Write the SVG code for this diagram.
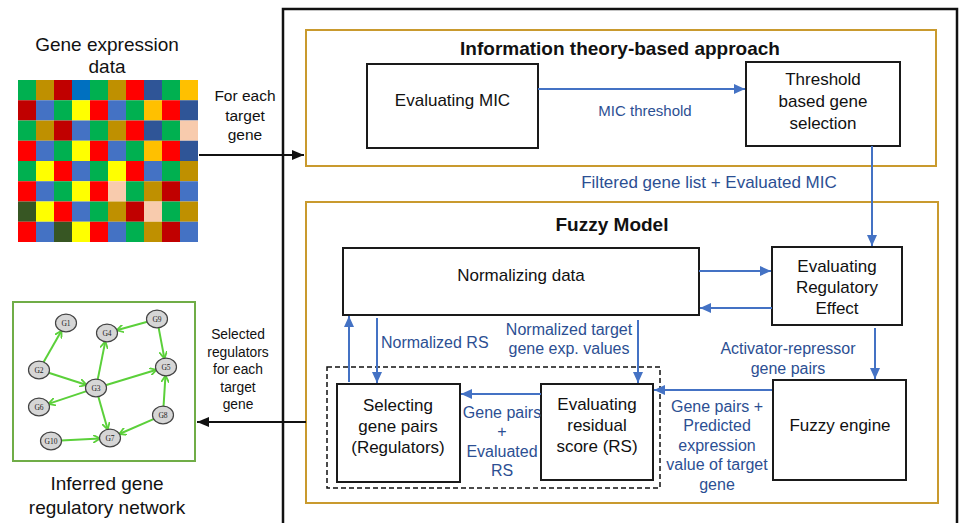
<svg xmlns="http://www.w3.org/2000/svg" width="959" height="523" viewBox="0 0 959 523">
<style>
text{font-family:"Liberation Sans",Arial,sans-serif;fill:#111}
.t19{font-size:19px;text-anchor:middle}
.t17{font-size:17px;text-anchor:middle}
.t15{font-size:15.5px;text-anchor:middle}
.t14{font-size:13.8px;text-anchor:middle}
.ttl{font-size:19px;font-weight:bold;text-anchor:middle}
.lb{font-size:16px;fill:#2c4f93;text-anchor:middle}
.box{fill:#fff;stroke:#1a1a1a;stroke-width:2}
.grp{fill:none;stroke:#c99a2e;stroke-width:2}
.blue{stroke:#4472c4;stroke-width:2;fill:none}
.blk{stroke:#111;stroke-width:2;fill:none}
.ge{stroke:#5bd03a;stroke-width:2;fill:none}
.gn{fill:#d6d6d6;stroke:#444;stroke-width:1.2}
.gt{font-family:"Liberation Serif",serif;font-size:7.5px;text-anchor:middle;fill:#222}
.G{fill:#00b050}.O{fill:#bf9000}.DR{fill:#c00000}.B{fill:#0070c0}.R{fill:#ff0000}.N{fill:#2f5597}.Y{fill:#ffff00}.OR{fill:#ffc000}.B2{fill:#4472c4}.P{fill:#f8cbad}.DG{fill:#375623}
</style>
<defs>
<marker id="ab" markerUnits="userSpaceOnUse" markerWidth="11" markerHeight="10" refX="11" refY="5" orient="auto"><path d="M0,0 L11,5 L0,10 z" fill="#4472c4"/></marker>
<marker id="ak" markerUnits="userSpaceOnUse" markerWidth="12" markerHeight="10" refX="12" refY="5" orient="auto"><path d="M0,0 L12,5 L0,10 z" fill="#111"/></marker>
<marker id="ag" markerUnits="userSpaceOnUse" markerWidth="8" markerHeight="8" refX="7" refY="4" orient="auto"><path d="M0,0 L7,4 L0,8" fill="none" stroke="#5bd03a" stroke-width="1.8"/></marker>
</defs>

<g id="gene-expression-data">
<text class="t19" x="107" y="51">Gene expression</text>
<text class="t19" x="107" y="73">data</text>
<g id="heatmap">
<rect class="G" x="18" y="80" width="18" height="20.25"/><rect class="O" x="36" y="80" width="18" height="20.25"/><rect class="DR" x="54" y="80" width="18" height="20.25"/><rect class="B" x="72" y="80" width="18" height="20.25"/><rect class="G" x="90" y="80" width="18" height="20.25"/><rect class="O" x="108" y="80" width="18" height="20.25"/><rect class="R" x="126" y="80" width="18" height="20.25"/><rect class="N" x="144" y="80" width="18" height="20.25"/><rect class="G" x="162" y="80" width="18" height="20.25"/><rect class="OR" x="180" y="80" width="18" height="20.25"/>
<rect class="DR" x="18" y="100.25" width="18" height="20.25"/><rect class="B2" x="36" y="100.25" width="18" height="20.25"/><rect class="G" x="54" y="100.25" width="18" height="20.25"/><rect class="Y" x="72" y="100.25" width="18" height="20.25"/><rect class="R" x="90" y="100.25" width="18" height="20.25"/><rect class="B2" x="108" y="100.25" width="18" height="20.25"/><rect class="G" x="126" y="100.25" width="18" height="20.25"/><rect class="OR" x="144" y="100.25" width="18" height="20.25"/><rect class="R" x="162" y="100.25" width="18" height="20.25"/><rect class="N" x="180" y="100.25" width="18" height="20.25"/>
<rect class="G" x="18" y="120.5" width="18" height="20.25"/><rect class="O" x="36" y="120.5" width="18" height="20.25"/><rect class="DR" x="54" y="120.5" width="18" height="20.25"/><rect class="B2" x="72" y="120.5" width="18" height="20.25"/><rect class="G" x="90" y="120.5" width="18" height="20.25"/><rect class="O" x="108" y="120.5" width="18" height="20.25"/><rect class="R" x="126" y="120.5" width="18" height="20.25"/><rect class="N" x="144" y="120.5" width="18" height="20.25"/><rect class="G" x="162" y="120.5" width="18" height="20.25"/><rect class="P" x="180" y="120.5" width="18" height="20.25"/>
<rect class="R" x="18" y="140.75" width="18" height="20.25"/><rect class="B2" x="36" y="140.75" width="18" height="20.25"/><rect class="G" x="54" y="140.75" width="18" height="20.25"/><rect class="Y" x="72" y="140.75" width="18" height="20.25"/><rect class="R" x="90" y="140.75" width="18" height="20.25"/><rect class="B2" x="108" y="140.75" width="18" height="20.25"/><rect class="G" x="126" y="140.75" width="18" height="20.25"/><rect class="OR" x="144" y="140.75" width="18" height="20.25"/><rect class="R" x="162" y="140.75" width="18" height="20.25"/><rect class="N" x="180" y="140.75" width="18" height="20.25"/>
<rect class="G" x="18" y="161" width="18" height="20.25"/><rect class="Y" x="36" y="161" width="18" height="20.25"/><rect class="R" x="54" y="161" width="18" height="20.25"/><rect class="B2" x="72" y="161" width="18" height="20.25"/><rect class="G" x="90" y="161" width="18" height="20.25"/><rect class="Y" x="108" y="161" width="18" height="20.25"/><rect class="R" x="126" y="161" width="18" height="20.25"/><rect class="B2" x="144" y="161" width="18" height="20.25"/><rect class="G" x="162" y="161" width="18" height="20.25"/><rect class="O" x="180" y="161" width="18" height="20.25"/>
<rect class="R" x="18" y="181.25" width="18" height="20.25"/><rect class="B2" x="36" y="181.25" width="18" height="20.25"/><rect class="G" x="54" y="181.25" width="18" height="20.25"/><rect class="Y" x="72" y="181.25" width="18" height="20.25"/><rect class="R" x="90" y="181.25" width="18" height="20.25"/><rect class="P" x="108" y="181.25" width="18" height="20.25"/><rect class="G" x="126" y="181.25" width="18" height="20.25"/><rect class="O" x="144" y="181.25" width="18" height="20.25"/><rect class="DR" x="162" y="181.25" width="18" height="20.25"/><rect class="B2" x="180" y="181.25" width="18" height="20.25"/>
<rect class="DG" x="18" y="201.5" width="18" height="20.25"/><rect class="Y" x="36" y="201.5" width="18" height="20.25"/><rect class="R" x="54" y="201.5" width="18" height="20.25"/><rect class="B2" x="72" y="201.5" width="18" height="20.25"/><rect class="G" x="90" y="201.5" width="18" height="20.25"/><rect class="O" x="108" y="201.5" width="18" height="20.25"/><rect class="DR" x="126" y="201.5" width="18" height="20.25"/><rect class="P" x="144" y="201.5" width="18" height="20.25"/><rect class="G" x="162" y="201.5" width="18" height="20.25"/><rect class="O" x="180" y="201.5" width="18" height="20.25"/>
<rect class="R" x="18" y="221.75" width="18" height="20.25"/><rect class="B2" x="36" y="221.75" width="18" height="20.25"/><rect class="DG" x="54" y="221.75" width="18" height="20.25"/><rect class="Y" x="72" y="221.75" width="18" height="20.25"/><rect class="R" x="90" y="221.75" width="18" height="20.25"/><rect class="B2" x="108" y="221.75" width="18" height="20.25"/><rect class="G" x="126" y="221.75" width="18" height="20.25"/><rect class="O" x="144" y="221.75" width="18" height="20.25"/><rect class="DR" x="162" y="221.75" width="18" height="20.25"/><rect class="B2" x="180" y="221.75" width="18" height="20.25"/>
</g>
</g>

<g id="inferred-network">
<rect x="13" y="302" width="182" height="159" fill="#fff" stroke="#70ad47" stroke-width="2"/>
<g id="net-edges">
<line class="ge" x1="43.5" y1="362.2" x2="61.5" y2="330.8" marker-end="url(#ag)"/>
<line class="ge" x1="48.6" y1="372.7" x2="86.6" y2="385" marker-end="url(#ag)"/>
<line class="ge" x1="97.7" y1="379.6" x2="105.3" y2="341.4" marker-end="url(#ag)"/>
<line class="ge" x1="105.5" y1="385.2" x2="156.5" y2="369.8" marker-end="url(#ag)"/>
<line class="ge" x1="86.6" y1="391.1" x2="48.4" y2="403.9" marker-end="url(#ag)"/>
<line class="ge" x1="98.3" y1="396.4" x2="107.7" y2="429.6" marker-end="url(#ag)"/>
<line class="ge" x1="147.4" y1="321.7" x2="116.6" y2="330.3" marker-end="url(#ag)"/>
<line class="ge" x1="158.6" y1="327.4" x2="164.4" y2="358.6" marker-end="url(#ag)"/>
<line class="ge" x1="163.5" y1="406.5" x2="165.5" y2="375.5" marker-end="url(#ag)"/>
<line class="ge" x1="154.1" y1="418.9" x2="119.3" y2="434" marker-end="url(#ag)"/>
<line class="ge" x1="61" y1="440.5" x2="100" y2="438.5" marker-end="url(#ag)"/>
</g>
<g id="G1"><ellipse class="gn" cx="66" cy="323" rx="10.5" ry="8.8"/><text class="gt" x="66" y="325.5">G1</text></g>
<g id="G4"><ellipse class="gn" cx="107" cy="333" rx="10.5" ry="8.8"/><text class="gt" x="107" y="335.5">G4</text></g>
<g id="G9"><ellipse class="gn" cx="157" cy="319" rx="10.5" ry="8.8"/><text class="gt" x="157" y="321.5">G9</text></g>
<g id="G2"><ellipse class="gn" cx="39" cy="370" rx="10.5" ry="8.8"/><text class="gt" x="39" y="372.5">G2</text></g>
<g id="G5"><ellipse class="gn" cx="166" cy="367" rx="10.5" ry="8.8"/><text class="gt" x="166" y="369.5">G5</text></g>
<g id="G3"><ellipse class="gn" cx="96" cy="388" rx="10.5" ry="8.8"/><text class="gt" x="96" y="390.5">G3</text></g>
<g id="G6"><ellipse class="gn" cx="39" cy="407" rx="10.5" ry="8.8"/><text class="gt" x="39" y="409.5">G6</text></g>
<g id="G8"><ellipse class="gn" cx="163" cy="415" rx="10.5" ry="8.8"/><text class="gt" x="163" y="417.5">G8</text></g>
<g id="G10"><ellipse class="gn" cx="51" cy="441" rx="10.5" ry="8.8"/><text class="gt" x="51" y="443.5">G10</text></g>
<g id="G7"><ellipse class="gn" cx="110" cy="438" rx="10.5" ry="8.8"/><text class="gt" x="110" y="440.5">G7</text></g>
<text class="t19" x="107" y="490">Inferred gene</text>
<text class="t19" x="107" y="514">regulatory network</text>
</g>

<g id="framework">
<rect x="283" y="9" width="674" height="540" fill="none" stroke="#111" stroke-width="2.5"/>
</g>

<g id="info-theory">
<rect class="grp" x="306" y="30" width="630" height="136"/>
<text class="ttl" x="620" y="55">Information theory-based approach</text>
</g>
<g id="fuzzy-model">
<rect class="grp" x="306" y="202" width="632" height="301"/>
<text class="ttl" x="612" y="231">Fuzzy Model</text>
</g>

<g id="evaluating-mic">
<rect class="box" x="367" y="64" width="171" height="84"/>
<text class="t17" x="452.5" y="106">Evaluating MIC</text>
</g>
<g id="threshold-selection">
<rect class="box" x="746" y="62" width="154" height="84"/>
<text class="t17" x="823" y="85">Threshold</text>
<text class="t17" x="823" y="107">based gene</text>
<text class="t17" x="823" y="129">selection</text>
</g>
<g id="normalizing-data">
<rect class="box" x="343" y="248" width="356" height="67"/>
<text class="t17" x="521" y="281">Normalizing data</text>
</g>
<g id="evaluating-regulatory-effect">
<rect class="box" x="772" y="247" width="130" height="78"/>
<text class="t17" x="837" y="272">Evaluating</text>
<text class="t17" x="837" y="293">Regulatory</text>
<text class="t17" x="837" y="314">Effect</text>
</g>
<g id="fuzzy-engine">
<rect class="box" x="773" y="380" width="133" height="100"/>
<text class="t17" x="840" y="431">Fuzzy engine</text>
</g>
<g id="rs-group">
<rect x="327" y="367" width="333" height="121" fill="none" stroke="#111" stroke-width="1.5" stroke-dasharray="5,3"/>
</g>
<g id="selecting-gene-pairs">
<rect class="box" x="337" y="384" width="123" height="98"/>
<text class="t17" x="398" y="411">Selecting</text>
<text class="t17" x="398" y="432">gene pairs</text>
<text class="t17" x="398" y="453">(Regulators)</text>
</g>
<g id="evaluating-residual-score">
<rect class="box" x="541" y="384" width="112" height="96"/>
<text class="t17" x="597" y="410">Evaluating</text>
<text class="t17" x="597" y="431">residual</text>
<text class="t17" x="597" y="452">score (RS)</text>
</g>

<g id="connectors">
<line class="blk" x1="199" y1="155" x2="304" y2="155" marker-end="url(#ak)"/>
<line class="blk" x1="306" y1="422" x2="197" y2="422" marker-end="url(#ak)"/>
<line class="blue" x1="538" y1="89" x2="745" y2="89" marker-end="url(#ab)"/>
<line class="blue" x1="872" y1="146" x2="872" y2="246" marker-end="url(#ab)"/>
<line class="blue" x1="699" y1="271" x2="771" y2="271" marker-end="url(#ab)"/>
<line class="blue" x1="772" y1="308" x2="700" y2="308" marker-end="url(#ab)"/>
<line class="blue" x1="875" y1="328" x2="875" y2="379" marker-end="url(#ab)"/>
<line class="blue" x1="772" y1="390" x2="654" y2="390" marker-end="url(#ab)"/>
<line class="blue" x1="541" y1="394" x2="461" y2="394" marker-end="url(#ab)"/>
<line class="blue" x1="349" y1="382" x2="349" y2="316" marker-end="url(#ab)"/>
<line class="blue" x1="377" y1="318" x2="377" y2="383" marker-end="url(#ab)"/>
<line class="blue" x1="638" y1="320" x2="638" y2="383" marker-end="url(#ab)"/>
</g>

<g id="labels">
<text class="t15" x="245" y="101">For each</text>
<text class="t15" x="245" y="121">target</text>
<text class="t15" x="245" y="140">gene</text>
<text class="t14" x="238" y="339">Selected</text>
<text class="t14" x="238" y="356.5">regulators</text>
<text class="t14" x="238" y="374">for each</text>
<text class="t14" x="238" y="391.5">target</text>
<text class="t14" x="238" y="409">gene</text>
<text class="lb" x="645" y="116" style="font-size:15px">MIC threshold</text>
<text class="lb" x="709" y="188" style="font-size:17px">Filtered gene list + Evaluated MIC</text>
<text class="lb" x="381" y="348" style="text-anchor:start">Normalized RS</text>
<text class="lb" x="569" y="335">Normalized target</text>
<text class="lb" x="569" y="354">gene exp. values</text>
<text class="lb" x="788" y="354">Activator-repressor</text>
<text class="lb" x="788" y="374">gene pairs</text>
<text class="lb" x="717" y="412">Gene pairs +</text>
<text class="lb" x="717" y="431">Predicted</text>
<text class="lb" x="717" y="451">expression</text>
<text class="lb" x="717" y="470">value of target</text>
<text class="lb" x="717" y="490">gene</text>
<text class="lb" x="502" y="418">Gene pairs</text>
<text class="lb" x="502" y="437">+</text>
<text class="lb" x="502" y="457">Evaluated</text>
<text class="lb" x="502" y="476">RS</text>
</g>
</svg>
